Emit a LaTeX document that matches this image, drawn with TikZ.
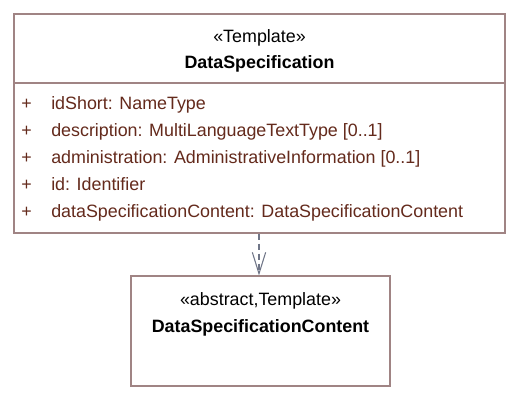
\documentclass[tikz,border=0pt]{standalone}
\usepackage{fontspec}
\setmainfont{Liberation Sans}
\usepackage{tikz}
\usetikzlibrary{arrows.meta}
\definecolor{umlborder}{RGB}{160,132,132}
\definecolor{umltext}{RGB}{100,42,28}
\definecolor{umlarrow}{RGB}{112,118,136}
\tikzstyle{every node}=[inner sep=0pt,font=\fontsize{13.4}{15}\selectfont]
\tikzstyle{classbox}=[draw=umlborder,line width=0.8pt,fill=white,rectangle]
\tikzstyle{stereo}=[anchor=base]
\tikzstyle{classname}=[anchor=base,font=\fontsize{13.4}{15}\selectfont\bfseries]
\tikzstyle{attr}=[anchor=base west,text=umltext]
\tikzstyle{realize}=[draw=umlarrow,line width=0.8pt,dash pattern=on 4.5pt off 3pt,
  -{Straight Barb[length=16pt,width=10pt,line width=0.8pt]}]

\begin{document}
\begin{tikzpicture}[x=0.75pt,y=-0.75pt]
  \useasboundingbox (0,0) rectangle (519,401);
  % DataSpecification
  \node [classbox,minimum width=368.25pt,minimum height=164.25pt] (spec) at (259.5,123.5) {};
  \draw [umlborder,line width=0.8pt] (spec.west |- 0,83) -- (spec.east |- 0,83);
  \node [stereo] (specstereo) at (259.5,42) {«Template»};
  \node [classname] (specname) at (259.5,68) {DataSpecification};
  \node [attr] (p1) at (21,109) {+};
  \node [attr] (a1) at (51,109) {idShort: NameType};
  \node [attr] (p2) at (21,136) {+};
  \node [attr] (a2) at (51,136) {description: MultiLanguageTextType [0..1]};
  \node [attr] (p3) at (21,163) {+};
  \node [attr] (a3) at (51,163) {administration: AdministrativeInformation [0..1]};
  \node [attr] (p4) at (21,190) {+};
  \node [attr] (a4) at (51,190) {id: Identifier};
  \node [attr] (p5) at (21,217) {+};
  \node [attr] (a5) at (51,217) {dataSpecificationContent: DataSpecificationContent};
  % DataSpecificationContent
  \node [classbox,minimum width=194.25pt,minimum height=82.5pt] (content) at (260.5,331) {};
  \node [stereo] (contentstereo) at (260.5,305) {«abstract,Template»};
  \node [classname] (contentname) at (260.5,332) {DataSpecificationContent};
  % realization
  \draw [realize] (spec.south -| 259,0) -- (content.north -| 259,0);
\end{tikzpicture}
\end{document}
